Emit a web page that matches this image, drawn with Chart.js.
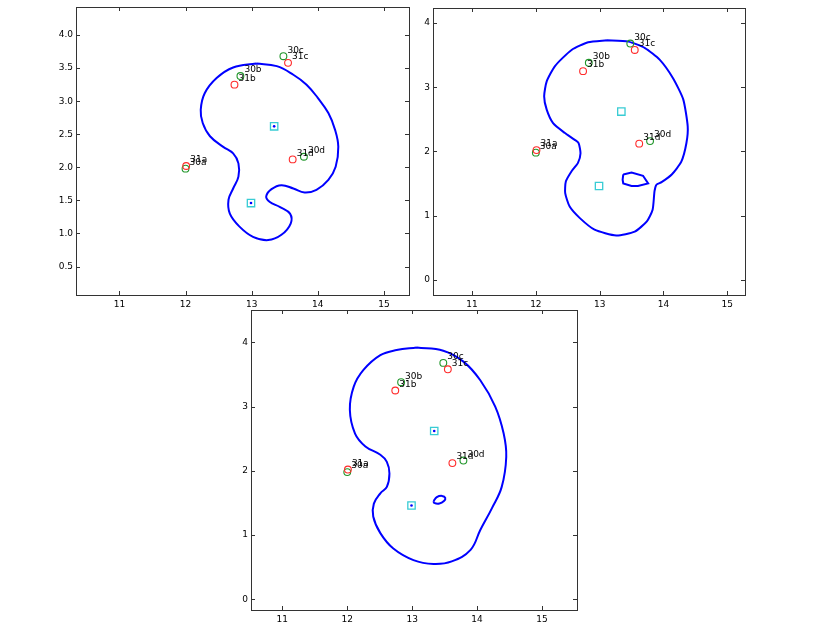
<!DOCTYPE html>
<html>
<head>
<meta charset="utf-8">
<script src="https://cdn.jsdelivr.net/npm/chart.js@4/dist/chart.umd.min.js"></script>
<style>
  body { margin: 0; background: #fff; width: 830px; height: 623px; position: relative; overflow: hidden; }
  canvas { position: absolute; }
</style>
</head>
<body>
<canvas id="plot1"></canvas>
<canvas id="plot2"></canvas>
<canvas id="plot3"></canvas>
<script>
// observed positions, two sessions
const names30 = ['30a', '30b', '30c', '30d'];
const x30 = [12.00, 12.83, 13.48, 13.79];
const y30 = [1.98, 3.38, 3.68, 2.16];
const names31 = ['31a', '31b', '31c', '31d'];
const x31 = [12.01, 12.74, 13.55, 13.62];
const y31 = [2.02, 3.25, 3.58, 2.12];

// cluster centres (cyan squares)
const centreX = [13.34, 12.99];
const centreY = [2.62, 1.46];

// tick labels
const xTicks = [11, 12, 13, 14, 15];
const yTicksFine = [0.5, 1.0, 1.5, 2.0, 2.5, 3.0, 3.5, 4.0];
const yTicksWhole = [0, 1, 2, 3, 4];

// contour traced for each panel
const contour1X = [13.07, 12.72, 12.47, 12.29, 12.23, 12.26, 12.37, 12.57, 12.72, 12.80, 12.80, 12.72, 12.65, 12.67, 12.82, 13.02, 13.25, 13.45, 13.59, 13.58, 13.43, 13.27, 13.22, 13.30, 13.45, 13.63, 13.80, 13.98, 14.16, 14.27, 14.31, 14.26, 14.16, 14.00, 13.83, 13.63, 13.38, 13.07];
const contour1Y = [3.57, 3.51, 3.35, 3.12, 2.87, 2.67, 2.47, 2.31, 2.21, 2.06, 1.86, 1.68, 1.51, 1.30, 1.10, 0.95, 0.90, 0.98, 1.15, 1.30, 1.40, 1.48, 1.56, 1.67, 1.73, 1.68, 1.62, 1.66, 1.81, 2.01, 2.31, 2.57, 2.82, 3.05, 3.25, 3.40, 3.53, 3.57];

const contour2X = [13.11, 12.82, 12.56, 12.30, 12.17, 12.13, 12.17, 12.27, 12.45, 12.61, 12.67, 12.70, 12.66, 12.56, 12.47, 12.46, 12.53, 12.69, 12.92, 13.26, 13.55, 13.74, 13.83, 13.86, 13.89, 13.97, 14.13, 14.28, 14.36, 14.38, 14.31, 14.15, 13.94, 13.71, 13.45, 13.11];
const contour2Y = [3.73, 3.70, 3.58, 3.33, 3.09, 2.86, 2.65, 2.44, 2.29, 2.18, 2.13, 1.97, 1.82, 1.69, 1.53, 1.35, 1.14, 0.96, 0.78, 0.69, 0.75, 0.91, 1.09, 1.38, 1.48, 1.52, 1.64, 1.84, 2.13, 2.39, 2.81, 3.14, 3.43, 3.61, 3.71, 3.73];
const island2X = [13.37, 13.50, 13.68, 13.76, 13.60, 13.50, 13.37, 13.36, 13.37];
const island2Y = [1.64, 1.67, 1.62, 1.50, 1.46, 1.46, 1.50, 1.56, 1.64];

const contour3X = [13.07, 12.76, 12.51, 12.25, 12.10, 12.04, 12.12, 12.28, 12.51, 12.61, 12.65, 12.61, 12.51, 12.41, 12.40, 12.51, 12.71, 13.02, 13.33, 13.61, 13.90, 14.05, 14.23, 14.38, 14.45, 14.41, 14.28, 14.05, 13.79, 13.48, 13.07];
const contour3Y = [3.92, 3.88, 3.80, 3.57, 3.31, 2.95, 2.58, 2.38, 2.25, 2.14, 1.96, 1.75, 1.65, 1.49, 1.29, 1.03, 0.79, 0.61, 0.55, 0.59, 0.77, 1.08, 1.42, 1.75, 2.22, 2.58, 3.00, 3.41, 3.70, 3.87, 3.92];
const island3X = [13.33, 13.38, 13.46, 13.51, 13.49, 13.42, 13.34, 13.33];
const island3Y = [1.53, 1.59, 1.61, 1.58, 1.53, 1.49, 1.50, 1.53];

function pts(xs, ys) {
    return xs.map((x, i) => ({ x: x, y: ys[i] }));
}

// matplotlib-like frame with inward ticks on all four sides
const framePlugin = {
    id: 'frame',
    afterDraw(chart) {
        const ctx = chart.ctx;
        const a = chart.chartArea;
        const xs = chart.scales.x, ys = chart.scales.y;
        ctx.save();
        ctx.strokeStyle = '#333';
        ctx.lineWidth = 1;
        ctx.strokeRect(Math.round(a.left) + 0.5, Math.round(a.top) + 0.5, Math.round(a.right - a.left), Math.round(a.bottom - a.top));
        ctx.beginPath();
        xs.ticks.forEach(t => {
            const px = Math.round(xs.getPixelForValue(t.value)) + 0.5;
            ctx.moveTo(px, a.bottom); ctx.lineTo(px, a.bottom - 4);
            ctx.moveTo(px, a.top); ctx.lineTo(px, a.top + 4);
        });
        ys.ticks.forEach(t => {
            const py = Math.round(ys.getPixelForValue(t.value)) + 0.5;
            ctx.moveTo(a.left, py); ctx.lineTo(a.left + 4, py);
            ctx.moveTo(a.right, py); ctx.lineTo(a.right - 4, py);
        });
        ctx.stroke();
        ctx.restore();
    }
};

// point name labels, placed next to each observation
const namePlugin = {
    id: 'names',
    afterDatasetsDraw(chart) {
        const ctx = chart.ctx;
        const xs = chart.scales.x, ys = chart.scales.y;
        ctx.save();
        ctx.font = '9px "DejaVu Sans"';
        ctx.fillStyle = '#000';
        ctx.textBaseline = 'middle';
        const put = (names, xv, yv) => names.forEach((n, i) => {
            ctx.fillText(n, xs.getPixelForValue(xv[i]) + 4, ys.getPixelForValue(yv[i]) - 6);
        });
        put(names30, x30, y30);
        put(names31, x31, y31);
        ctx.restore();
    }
};

function makePlot(id, box, xr, yr, yTicks, yDigits, contours, centreDots) {
    const canvas = document.getElementById(id);
    const padL = 45, padT = 10, padR = 12, padB = 18;
    canvas.width = box.r - box.l + padL + padR;
    canvas.height = box.b - box.t + padT + padB;
    canvas.style.left = (box.l - padL) + 'px';
    canvas.style.top = (box.t - padT) + 'px';

    const datasets = [];
    if (centreDots) {
        datasets.push({ data: pts(centreX, centreY), pointStyle: 'circle', pointRadius: 1.3, backgroundColor: '#0000ff', borderColor: '#0000ff', borderWidth: 0 });
    }
    datasets.push({ data: pts(x31, y31), pointStyle: 'circle', pointRadius: 3.4, backgroundColor: 'rgba(0,0,0,0)', borderColor: '#ff2a2a', borderWidth: 1.1 });
    datasets.push({ data: pts(x30, y30), pointStyle: 'circle', pointRadius: 3.4, backgroundColor: 'rgba(0,0,0,0)', borderColor: '#20962a', borderWidth: 1.1 });
    datasets.push({ data: pts(centreX, centreY), pointStyle: 'rect', pointRadius: 5.2, backgroundColor: 'rgba(0,0,0,0)', borderColor: '#38ccd4', borderWidth: 1.3 });
    contours.forEach(c => {
        datasets.push({ data: pts(c.x, c.y), showLine: true, pointRadius: 0, borderColor: '#0000ff', borderWidth: 2, tension: c.tension, fill: false });
    });

    const font = { family: '"DejaVu Sans"', size: 9 };
    new Chart(canvas, {
        type: 'scatter',
        data: { datasets: datasets },
        plugins: [framePlugin, namePlugin],
        options: {
            responsive: false,
            animation: false,
            layout: { padding: { left: 0, top: padT, right: padR, bottom: 0 } },
            plugins: { legend: { display: false }, tooltip: { enabled: false } },
            scales: {
                x: {
                    type: 'linear', min: xr[0], max: xr[1],
                    grid: { display: false, drawTicks: false }, border: { display: false },
                    afterBuildTicks: s => { s.ticks = xTicks.map(v => ({ value: v })); },
                    afterFit: s => { s.height = padB; },
                    ticks: { font: font, color: '#000', padding: 4, autoSkip: false, maxRotation: 0, callback: v => String(v) }
                },
                y: {
                    type: 'linear', min: yr[0], max: yr[1],
                    grid: { display: false, drawTicks: false }, border: { display: false },
                    afterBuildTicks: s => { s.ticks = yTicks.map(v => ({ value: v })); },
                    afterFit: s => { s.width = padL; },
                    ticks: { font: font, color: '#000', padding: 3, autoSkip: false, callback: v => v.toFixed(yDigits) }
                }
            }
        }
    });
}

makePlot('plot1', { l: 76, t: 7, r: 409, b: 295 }, [10.344, 15.379], [0.07, 4.424], yTicksFine, 1,
    [{ x: contour1X, y: contour1Y, tension: 0.4 }], true);
makePlot('plot2', { l: 433, t: 8, r: 745, b: 295 }, [10.388, 15.278], [-0.238, 4.234], yTicksWhole, 0,
    [{ x: contour2X, y: contour2Y, tension: 0.2 }, { x: island2X, y: island2Y, tension: 0 }], false);
makePlot('plot3', { l: 251, t: 310, r: 577, b: 610 }, [10.517, 15.54], [-0.166, 4.503], yTicksWhole, 0,
    [{ x: contour3X, y: contour3Y, tension: 0.4 }, { x: island3X, y: island3Y, tension: 0.4 }], true);
</script>
</body>
</html>
